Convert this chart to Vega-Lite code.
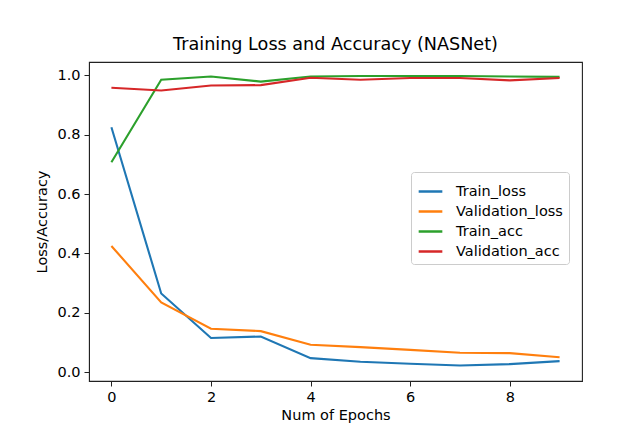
{
  "$schema": "https://vega.github.io/schema/vega-lite/v6.json",
  "width": 493,
  "height": 319,
  "autosize": {"type": "none"},
  "padding": {"left": 89, "top": 62, "right": 59, "bottom": 51},
  "background": "white",
  "title": {"text": "Training Loss and Accuracy (NASNet)", "font": "DejaVu Sans", "fontSize": 17.6, "fontWeight": "normal", "color": "#000", "offset": 8},
  "data": {"values": [
    {"epoch": 0, "value": 0.825, "series": "Train_loss"},
    {"epoch": 1, "value": 0.265, "series": "Train_loss"},
    {"epoch": 2, "value": 0.115, "series": "Train_loss"},
    {"epoch": 3, "value": 0.12, "series": "Train_loss"},
    {"epoch": 4, "value": 0.047, "series": "Train_loss"},
    {"epoch": 5, "value": 0.035, "series": "Train_loss"},
    {"epoch": 6, "value": 0.028, "series": "Train_loss"},
    {"epoch": 7, "value": 0.022, "series": "Train_loss"},
    {"epoch": 8, "value": 0.027, "series": "Train_loss"},
    {"epoch": 9, "value": 0.037, "series": "Train_loss"},
    {"epoch": 0, "value": 0.425, "series": "Validation_loss"},
    {"epoch": 1, "value": 0.235, "series": "Validation_loss"},
    {"epoch": 2, "value": 0.146, "series": "Validation_loss"},
    {"epoch": 3, "value": 0.138, "series": "Validation_loss"},
    {"epoch": 4, "value": 0.092, "series": "Validation_loss"},
    {"epoch": 5, "value": 0.084, "series": "Validation_loss"},
    {"epoch": 6, "value": 0.075, "series": "Validation_loss"},
    {"epoch": 7, "value": 0.065, "series": "Validation_loss"},
    {"epoch": 8, "value": 0.064, "series": "Validation_loss"},
    {"epoch": 9, "value": 0.05, "series": "Validation_loss"},
    {"epoch": 0, "value": 0.707, "series": "Train_acc"},
    {"epoch": 1, "value": 0.985, "series": "Train_acc"},
    {"epoch": 2, "value": 0.996, "series": "Train_acc"},
    {"epoch": 3, "value": 0.979, "series": "Train_acc"},
    {"epoch": 4, "value": 0.996, "series": "Train_acc"},
    {"epoch": 5, "value": 0.998, "series": "Train_acc"},
    {"epoch": 6, "value": 0.998, "series": "Train_acc"},
    {"epoch": 7, "value": 0.998, "series": "Train_acc"},
    {"epoch": 8, "value": 0.996, "series": "Train_acc"},
    {"epoch": 9, "value": 0.995, "series": "Train_acc"},
    {"epoch": 0, "value": 0.958, "series": "Validation_acc"},
    {"epoch": 1, "value": 0.949, "series": "Validation_acc"},
    {"epoch": 2, "value": 0.966, "series": "Validation_acc"},
    {"epoch": 3, "value": 0.967, "series": "Validation_acc"},
    {"epoch": 4, "value": 0.992, "series": "Validation_acc"},
    {"epoch": 5, "value": 0.985, "series": "Validation_acc"},
    {"epoch": 6, "value": 0.991, "series": "Validation_acc"},
    {"epoch": 7, "value": 0.991, "series": "Validation_acc"},
    {"epoch": 8, "value": 0.983, "series": "Validation_acc"},
    {"epoch": 9, "value": 0.991, "series": "Validation_acc"}
  ]},
  "mark": {"type": "line", "strokeWidth": 2.1, "clip": true},
  "encoding": {
    "x": {
      "field": "epoch", "type": "quantitative",
      "scale": {"domain": [-0.45, 9.45], "nice": false, "zero": false},
      "axis": {"values": [0, 2, 4, 6, 8], "title": "Num of Epochs", "grid": false, "format": "d", "titlePadding": 5}
    },
    "y": {
      "field": "value", "type": "quantitative",
      "scale": {"domain": [-0.03, 1.045], "nice": false, "zero": false},
      "axis": {"values": [0, 0.2, 0.4, 0.6, 0.8, 1.0], "title": "Loss/Accuracy", "grid": false, "format": ".1f", "titlePadding": 7}
    },
    "color": {
      "field": "series", "type": "nominal",
      "scale": {"domain": ["Train_loss", "Validation_loss", "Train_acc", "Validation_acc"], "range": ["#1f77b4", "#ff7f0e", "#2ca02c", "#d62728"]},
      "legend": {
        "title": null, "orient": "none", "legendX": 322, "legendY": 110,
        "symbolType": "stroke", "symbolSize": 560, "symbolStrokeWidth": 2.5,
        "labelFont": "DejaVu Sans", "labelFontSize": 14.5, "labelColor": "#000",
        "labelOffset": 12, "rowPadding": 0,
        "fillColor": "white", "strokeColor": "#cccccc", "cornerRadius": 3, "padding": 6
      }
    }
  },
  "config": {
    "view": {"stroke": "#222", "strokeWidth": 1.1},
    "axis": {
      "labelFont": "DejaVu Sans", "labelFontSize": 14.5, "labelColor": "#000",
      "titleFont": "DejaVu Sans", "titleFontSize": 14.5, "titleFontWeight": "normal", "titleColor": "#000",
      "domainColor": "#222", "tickColor": "#222", "tickSize": 5, "labelPadding": 4
    }
  }
}
